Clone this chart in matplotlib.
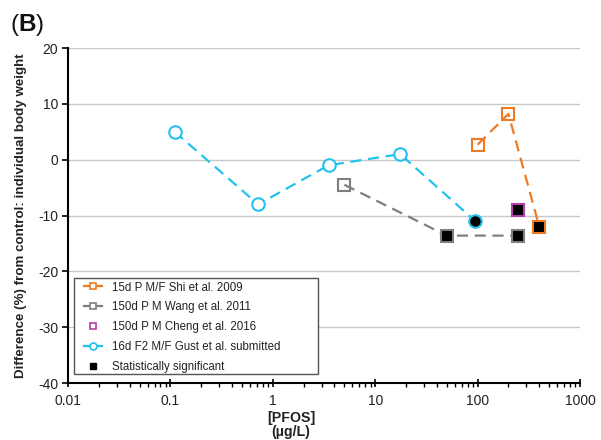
import matplotlib
matplotlib.use("Agg")
import matplotlib.pyplot as plt
from matplotlib.lines import Line2D
from matplotlib.patches import Rectangle
from matplotlib.ticker import LogLocator, FixedLocator, FixedFormatter, NullFormatter

plt.rcParams['font.family'] = ['Liberation Sans', 'DejaVu Sans']
plt.rcParams['axes.unicode_minus'] = False

# Data
shi_x = [100, 200, 400]
shi_y = [2.7, 8.2, -12.0]
shi_sig = [False, False, True]

wang_x = [5, 50, 250]
wang_y = [-4.5, -13.6, -13.6]
wang_sig = [False, True, True]

cheng_x = [250]
cheng_y = [-9.0]
cheng_sig = [True]

gust_x = [0.11, 0.72, 3.5, 17.5, 95]
gust_y = [5.0, -8.0, -1.0, 1.0, -11.0]
gust_sig = [False, False, False, False, True]

labels = ["15d P M/F Shi et al. 2009", "150d P M Wang et al. 2011",
          "150d P M Cheng et al. 2016", "16d F2 M/F Gust et al. submitted",
          "Statistically significant"]
xticks = [0.01, 0.1, 1, 10, 100, 1000]
xticklabels = ["0.01", "0.1", "1", "10", "100", "1000"]
yticks = [-40, -30, -20, -10, 0, 10, 20]

c_orange = '#F07A22'
c_gray = '#7F7F7F'
c_mag = '#B43FA8'
c_cyan = '#22C1EE'

fig = plt.figure(figsize=(6.01, 4.40), dpi=100)
ax = fig.add_axes([0.1131, 0.1295, 0.852, 0.7614])

dash = (0, (5, 3))
ms = 9
mew = 1.5

def series(x, y, sig, color, marker, line=True, fill='none'):
    if line:
        ax.plot(x, y, linestyle=dash, color=color, lw=1.6, zorder=2)
    for xi, yi, s in zip(x, y, sig):
        ax.plot([xi], [yi], linestyle='none', marker=marker, ms=ms, mew=mew,
                mec=color, mfc='black' if s else fill, zorder=3)

series(shi_x, shi_y, shi_sig, c_orange, 's')
series(wang_x, wang_y, wang_sig, c_gray, 's')
series(cheng_x, cheng_y, cheng_sig, c_mag, 's', line=False)
series(gust_x, gust_y, gust_sig, c_cyan, 'o', fill='white')

ax.set_xscale('log')
ax.set_xlim(0.01, 1000)
ax.set_ylim(-40, 20)
ax.xaxis.set_major_locator(FixedLocator(xticks))
ax.xaxis.set_major_formatter(FixedFormatter(xticklabels))
ax.xaxis.set_minor_locator(LogLocator(base=10, subs=range(2, 10)))
ax.xaxis.set_minor_formatter(NullFormatter())
ax.set_yticks(yticks)
ax.tick_params(axis='x', which='major', direction='inout', length=6, width=1.2,
               labelsize=10, colors='black', labelcolor='#222222', pad=5)
ax.tick_params(axis='x', which='minor', direction='out', length=3, width=1.0)
ax.tick_params(axis='y', direction='out', length=4, width=1.2, labelsize=10,
               labelcolor='#222222', pad=3)

ax.grid(axis='y', color='#c8c8c8', lw=1.0, zorder=0)
ax.set_axisbelow(True)
for s in ['top', 'right']:
    ax.spines[s].set_visible(False)
ax.spines['left'].set_linewidth(1.5)
ax.spines['bottom'].set_linewidth(1.5)

ax.set_ylabel("Difference (%) from control: individual body weight",
              fontsize=9.6, fontweight='bold', color='#222222')
ax.yaxis.set_label_coords(-0.080, 0.5)
ax.set_xlabel("[PFOS]\n(\u00b5g/L)", fontsize=10.2, fontweight='bold', color='#222222',
              linespacing=1.05)
ax.xaxis.set_label_coords(0.4355, -0.083)
ax.xaxis.label.set_va('top')

lms = 5
handles = [
    Line2D([], [], color=c_orange, ls='-', lw=1.6, marker='s', ms=lms, mec=c_orange, mfc='white', mew=1.2),
    Line2D([], [], color=c_gray, ls='-', lw=1.6, marker='s', ms=lms, mec=c_gray, mfc='white', mew=1.2),
    Line2D([], [], color=c_mag, ls='none', marker='s', ms=lms, mec=c_mag, mfc='white', mew=1.2),
    Line2D([], [], color=c_cyan, ls='-', lw=1.6, marker='o', ms=lms, mec=c_cyan, mfc='white', mew=1.2),
    Line2D([], [], color='black', ls='none', marker='s', ms=lms, mec='black', mfc='black'),
]
# manual legend frame
ax.add_patch(Rectangle((0.0117, 0.027), 0.4766, 0.2866, transform=ax.transAxes,
                       facecolor='white', edgecolor='#555555', lw=1.0, zorder=4))
leg = ax.legend(handles, labels, loc='upper left', bbox_to_anchor=(0.031, 0.303),
                borderaxespad=0, fontsize=8.3, handlelength=1.6, handletextpad=0.8,
                labelspacing=0.68, frameon=False, borderpad=0)
leg.set_zorder(5)
for t in leg.get_texts():
    t.set_color('#222222')

t1 = fig.text(0.018, 0.9295, "(", fontsize=17.5, color='#111111', va='baseline')
t2 = ax.annotate("B", xy=(1, 0), xycoords=t1, va='bottom', fontsize=17.5,
                 fontweight='bold', color='#111111', annotation_clip=False)
ax.annotate(")", xy=(1, 0), xycoords=t2, va='bottom', fontsize=17.5,
            color='#111111', annotation_clip=False)

fig.savefig("out.png", dpi=100)
